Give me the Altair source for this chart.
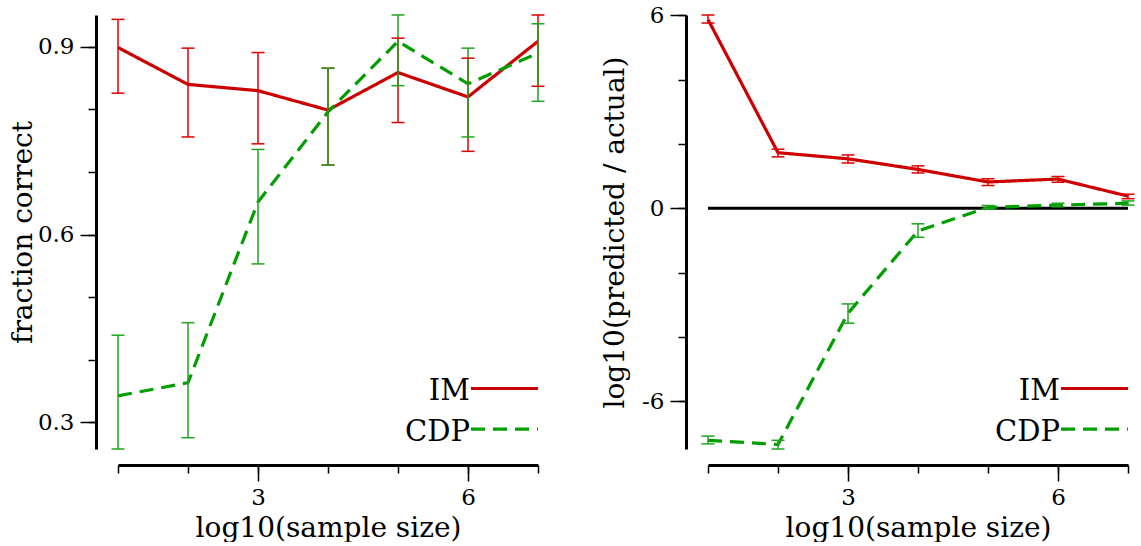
import altair as alt
import pandas as pd

# ---------------- data ----------------
x_vals = [1, 2, 3, 4, 5, 6, 7]
series_names = ["IM", "CDP"]

# left panel: fraction correct
frac_im = [0.899, 0.840, 0.830, 0.799, 0.859, 0.820, 0.909]
frac_im_lo = [0.826, 0.756, 0.745, 0.711, 0.779, 0.733, 0.837]
frac_im_hi = [0.944, 0.898, 0.891, 0.866, 0.914, 0.882, 0.951]
frac_cdp = [0.342, 0.363, 0.652, 0.796, 0.909, 0.841, 0.890]
frac_cdp_lo = [0.257, 0.275, 0.553, 0.711, 0.838, 0.756, 0.813]
frac_cdp_hi = [0.439, 0.459, 0.736, 0.866, 0.951, 0.898, 0.937]

# right panel: log10(predicted / actual)
log_im = [5.87, 1.73, 1.54, 1.21, 0.82, 0.91, 0.38]
log_im_lo = [5.76, 1.60, 1.41, 1.10, 0.71, 0.81, 0.30]
log_im_hi = [6.01, 1.84, 1.66, 1.32, 0.92, 0.99, 0.44]
log_cdp = [-7.21, -7.34, -3.26, -0.70, 0.03, 0.10, 0.16]
log_cdp_lo = [-7.32, -7.48, -3.57, -0.90, -0.02, 0.05, 0.10]
log_cdp_hi = [-7.08, -7.21, -2.97, -0.48, 0.09, 0.16, 0.23]

x_major = [3, 6]
frac_major = [0.3, 0.6, 0.9]
frac_minor = [0.3, 0.4, 0.5, 0.6, 0.7, 0.8, 0.9]
log_major = [-6, 0, 6]
log_minor = [-6, -4, -2, 0, 2, 4, 6]
ref_values = [0]

# ---------------- styling ----------------
FONT = "DejaVu Serif"
LINE_COLORS = ["#cc0000", "#009e00"]
ERR_COLORS = ["#dd0000", "#1fa51f"]
DASHES = [[1, 0], [14, 8]]
PW, PH = 420, 434
X_OFF, Y_OFF = 16, 22


def make_df(im, im_lo, im_hi, cdp, cdp_lo, cdp_hi):
    rows = []
    for name, v, lo, hi in [("IM", im, im_lo, im_hi), ("CDP", cdp, cdp_lo, cdp_hi)]:
        for xi, vi, l, h in zip(x_vals, v, lo, hi):
            rows.append({"x": xi, "series": name, "v": vi, "lo": l, "hi": h})
    return pd.DataFrame(rows)


def panel(df, ytitle, major, minor, label_expr, title_x, with_zero):
    xs = alt.Scale(domain=[min(x_vals), max(x_vals)], nice=False, zero=False)
    ys = alt.Scale(domain=[float(df["lo"].min()), float(df["hi"].max())], nice=False, zero=False)
    base = alt.Chart(df)
    line_color = alt.Color("series:N", scale=alt.Scale(domain=series_names, range=LINE_COLORS), legend=None)
    err_color = alt.Color("series:N", scale=alt.Scale(domain=series_names, range=ERR_COLORS), legend=None)

    lines = base.mark_line(strokeWidth=3.2).encode(
        x=alt.X("x:Q", scale=xs, axis=alt.Axis(
            orient="bottom", values=x_major, tickSize=16, offset=X_OFF, format="d",
            title="log10(sample size)", titleY=71, titleBaseline="alphabetic", labelPadding=5)),
        y=alt.Y("v:Q", scale=ys, axis=alt.Axis(
            orient="left", values=major, tickSize=16, offset=Y_OFF, labelExpr=label_expr,
            title=ytitle, titleX=title_x, titleBaseline="alphabetic", labelPadding=6)),
        color=line_color,
        strokeDash=alt.StrokeDash("series:N", scale=alt.Scale(domain=series_names, range=DASHES), legend=None),
    )

    err = base.mark_rule(strokeWidth=1.5).encode(
        x=alt.X("x:Q", scale=xs, axis=alt.Axis(
            orient="bottom", values=x_vals, tickSize=8, offset=X_OFF, labels=False, domain=False, title=None)),
        y=alt.Y("lo:Q", scale=ys, axis=alt.Axis(
            orient="left", values=minor, tickSize=8, offset=Y_OFF, labels=False, domain=False, title=None)),
        y2="hi:Q",
        color=err_color,
    )

    caps = base.transform_fold(["lo", "hi"], as_=["end", "val"]).mark_tick(
        orient="horizontal", size=13, thickness=1.5, opacity=1
    ).encode(
        x=alt.X("x:Q", scale=xs, axis=None),
        y=alt.Y("val:Q", scale=ys, axis=None),
        color=err_color,
    )

    layers = []
    if with_zero:
        zero = alt.Chart(pd.DataFrame({"ref": ref_values})).mark_rule(color="black", strokeWidth=3).encode(
            x=alt.XDatum(min(x_vals), scale=xs, axis=None),
            x2=alt.X2Datum(max(x_vals)),
            y=alt.Y("ref:Q", scale=ys, axis=None),
        )
        layers.append(zero)
    layers += [lines, err, caps]

    # legend (label to the left of the line sample), bottom right of the panel
    for i, name in enumerate(series_names):
        leg_df = pd.DataFrame({"series": [name]})
        layers.append(
            alt.Chart(leg_df).mark_rule(strokeWidth=3.2, color=LINE_COLORS[i], strokeDash=DASHES[i]).encode(
                x=alt.value(PW - 67), x2=alt.value(PW), y=alt.value(373.5 + 40.7 * i))
        )
        layers.append(
            alt.Chart(leg_df).mark_text(align="right", baseline="alphabetic", font=FONT, fontSize=29,
                                        color="black").encode(
                x=alt.value(PW - 68), y=alt.value(385.2 + 40.7 * i), text="series:N")
        )

    return alt.layer(*layers).resolve_axis(x="independent", y="independent").resolve_scale(
        color="independent", strokeDash="independent").properties(width=PW, height=PH)


left = panel(make_df(frac_im, frac_im_lo, frac_im_hi, frac_cdp, frac_cdp_lo, frac_cdp_hi),
             "fraction correct", frac_major, frac_minor, "format(datum.value, '.1f')", -65, False)
right = panel(make_df(log_im, log_im_lo, log_im_hi, log_cdp, log_cdp_lo, log_cdp_hi),
              "log10(predicted / actual)", log_major, log_minor, "'' + datum.value", -63, True)

chart = alt.hconcat(left, right, spacing=170, bounds="flush").properties(
    padding={"left": 9, "top": 4, "right": 0, "bottom": 0}
).configure_axis(
    domainColor="black", domainWidth=3, tickColor="black", tickWidth=1.5,
    labelFont=FONT, labelFontSize=23, labelColor="black",
    titleFont=FONT, titleFontSize=28, titleFontWeight="normal", titleColor="black",
    grid=False,
).configure_view(stroke=None)

chart.save("out.html", embed_options={"renderer": "svg", "actions": False})
